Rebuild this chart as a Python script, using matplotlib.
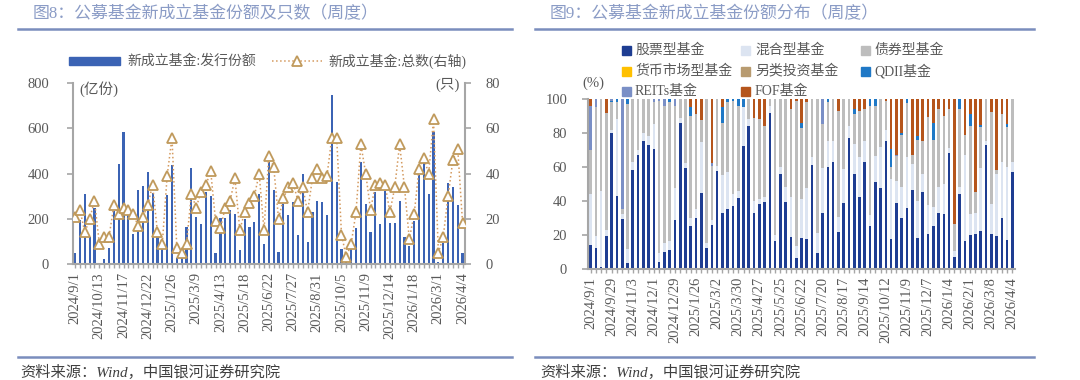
import matplotlib
matplotlib.use('Agg')
import matplotlib.pyplot as plt
import numpy as np
from matplotlib.lines import Line2D
from matplotlib.patches import Rectangle

plt.rcParams['font.family'] = ['Liberation Serif', 'Noto Sans CJK SC']

# ---------------- data ----------------
dates = [
    "2024/9/1", "2024/9/8", "2024/9/15", "2024/9/22", "2024/9/29", "2024/10/13", "2024/10/20",
    "2024/10/27", "2024/11/3", "2024/11/10", "2024/11/17", "2024/11/24", "2024/12/1", "2024/12/8",
    "2024/12/15", "2024/12/22", "2024/12/29",
    "2025/1/5", "2025/1/12", "2025/1/19", "2025/1/26", "2025/2/9", "2025/2/16", "2025/2/23",
    "2025/3/2", "2025/3/9", "2025/3/16", "2025/3/23", "2025/3/30", "2025/4/6", "2025/4/13",
    "2025/4/20", "2025/4/27", "2025/5/4", "2025/5/11", "2025/5/18", "2025/5/25", "2025/6/1",
    "2025/6/8", "2025/6/15", "2025/6/22", "2025/6/29", "2025/7/6", "2025/7/13", "2025/7/20",
    "2025/7/27", "2025/8/3", "2025/8/10", "2025/8/17", "2025/8/24", "2025/8/31", "2025/9/7",
    "2025/9/14", "2025/9/21", "2025/9/28", "2025/10/5", "2025/10/12", "2025/10/19", "2025/10/26",
    "2025/11/2", "2025/11/9", "2025/11/16", "2025/11/23", "2025/11/30", "2025/12/7", "2025/12/14",
    "2025/12/21", "2025/12/28",
    "2026/1/4", "2026/1/11", "2026/1/18", "2026/1/25", "2026/2/1", "2026/2/8", "2026/2/15",
    "2026/3/1", "2026/3/8", "2026/3/15", "2026/3/22", "2026/3/29", "2026/4/4",
]

# 新成立基金:发行份额 (亿份)
issue_share = [
    50, 195, 310, 120, 250, 5, 22, 70, 235, 443,
    585, 215, 133, 328, 345, 407, 316, 120, 77, 304,
    438, 25, 35, 162, 427, 210, 177, 319, 301, 47,
    202, 205, 239, 221, 62, 200, 162, 187, 310, 89,
    453, 328, 55, 265, 215, 276, 128, 397, 97, 232,
    280, 273, 217, 748, 365, 66, 25, 72, 161, 453,
    264, 140, 320, 177, 323, 180, 180, 279, 121, 80,
    192, 394, 446, 308, 586, 10, 92, 360, 342, 261,
    50,
]

# 新成立基金:总数 (只)
fund_count = [
    21, 24, 14, 20, 28, 9, 12, 12, 26, 22,
    25, 24, 22, 17, 21, 26, 35, 14, 9, 39,
    56, 7, 5, 9, 31, 25, 32, 35, 41, 19,
    16, 25, 28, 38, 15, 23, 27, 30, 40, 15,
    48, 43, 20, 29, 34, 36, 28, 34, 23, 38,
    42, 38, 39, 56, 56, 13, 3, 9, 23, 53,
    40, 24, 35, 36, 35, 23, 34, 53, 34, 11,
    22, 42, 47, 40, 64, 5, 12, 30, 46, 51,
    18,
]

# share distribution (%)
stock = [
    14, 12, 1, 19, 80, 43, 29, 3.5, 58, 67,
    75, 73, 70.5, 4, 10, 11, 28.5, 86, 59, 25,
    30, 44.5, 12, 25.5, 57.5, 33, 35, 37, 41.5, 72,
    84, 33, 38, 39, 92, 16, 56, 39, 18.5, 6,
    18, 17.6, 61, 9, 33, 60, 63, 21.5, 38.6, 77,
    56, 42, 63, 25, 51, 47.5, 75.5, 17.6, 38.6, 30,
    35.7, 46.5, 18, 45, 20.6, 25, 33, 32, 68, 6.5,
    44, 16, 20, 20.6, 22, 73, 20.6, 19, 30, 16.7,
    57,
]
mixed = [
    30, 7, 45, 4, 2, 45, 3, 8, 5, 3,
    5, 5, 15, 5, 5, 5, 19, 3, 3, 4.5,
    5, 30, 3, 3, 3, 22, 22, 7, 4, 23,
    4, 7, 3, 3, 4, 4, 4, 9, 23.5, 7,
    23, 30, 5, 12, 26, 15, 12, 9, 20, 7,
    17.6, 23.5, 12, 6.5, 15.6, 24, 6, 35, 13, 18,
    30, 15, 22, 11, 16.7, 11, 15, 18, 3, 4,
    4, 51, 12, 12, 37, 2.5, 17.6, 37, 33, 43,
    6,
]
bond = [
    26, 76, 54, 69, 16, 10, 3, 85.5, 37, 30,
    20, 22, 13, 90, 81, 82, 48.5, 11, 38, 60.5,
    56, 13, 85, 32, 39.5, 31, 41, 55, 50.5, 0,
    12, 49, 47, 42, 4, 80, 40, 52, 52, 86,
    42, 50.4, 34, 79, 26, 23, 25, 62.5, 41.4, 16,
    17.4, 27.5, 19, 64.5, 29.4, 28.5, 17.5, 7, 15, 31,
    32, 5.5, 36, 19.5, 52, 40, 46, 40, 23, 16,
    46, 12, 52, 12.5, 24.5, 24.5, 54, 2, 28.2, 23.6,
    37,
]
money = [0] * 81
alternative = [0] * 81
qdii = [
    0, 0, 0, 0, 1, 2, 0, 3, 0, 0,
    0, 0, 0, 0, 0, 2, 0, 0, 0, 5,
    0, 0, 0, 0, 0, 9, 2, 1, 4, 5,
    0, 0, 0, 0, 0, 0, 0, 0, 0, 0,
    3, 0, 0, 0, 0, 2, 0, 0, 0, 0,
    3, 0, 0, 4, 4, 0, 0, 11, 0, 1,
    2.3, 0, 2, 0, 0, 10, 0, 0, 0, 0,
    6, 0, 7, 0, 1, 0, 0, 0, 0, 2,
    0,
]
reits = [
    26, 5, 0, 0, 1, 0, 65, 0, 0, 0,
    0, 0, 1.5, 1, 4, 0, 4, 0, 0, 0,
    0, 0, 0, 1.5, 0, 0, 0, 0, 0, 0,
    0, 0, 0, 0, 0, 0, 0, 0, 0, 0,
    0, 0, 0, 0, 15, 0, 0, 0, 0, 0,
    0, 0, 0, 0, 0, 0, 0, 0, 0.4, 0,
    0, 0, 0, 0, 0, 0, 0, 0, 0, 0,
    0, 0, 0, 0, 0, 0, 0, 0, 0, 0,
    0,
]
fof = [
    4, 0, 0, 8, 0, 0, 0, 0, 0, 0,
    0, 0, 0, 0, 0, 0, 0, 0, 0, 5,
    9, 12.5, 0, 38, 0, 5, 0, 0, 0, 0,
    0, 11, 12, 16, 0, 0, 0, 0, 6, 1,
    14, 2, 0, 0, 0, 0, 0, 7, 0, 0,
    6, 7, 6, 0, 0, 0, 1, 29.4, 33, 20,
    0, 33, 22, 24.5, 10.7, 14, 6, 10, 6, 73.5,
    0, 21, 9, 54.9, 15.5, 0, 7.8, 42, 8.8, 14.7,
    0,
]

dist_names = ["股票型基金", "混合型基金", "债券型基金", "货币市场型基金",
              "另类投资基金", "QDII基金", "REITs基金", "FOF基金"]
dist_colors = ["#1e3d92", "#dce4f1", "#bdbdbd", "#ffc000",
               "#b89b70", "#1f78c6", "#7a8fc6", "#b5551c"]

# ---------------- figure ----------------
W, H = 1080, 380
fig = plt.figure(figsize=(W / 100, H / 100), dpi=100)
fig.patch.set_facecolor("white")


def fx(p):
    return p / W


def fy(p):
    return 1 - p / H


def box(l, t, r, b):
    return [fx(l), fy(b), (r - l) / W, (b - t) / H]


TXT = "#595959"
AXC = "#a6a6a6"
TITLE_C = "#8b9cc6"
LINE_C = "#7a8dbd"
x = np.arange(len(dates))

# ---- header / footer decorations ----
fig.text(fx(33), fy(14), "图8：公募基金新成立基金份额及只数（周度）", fontsize=12.2,
         color=TITLE_C, va="center", ha="left")
fig.text(fx(550), fy(14), "图9：公募基金新成立基金份额分布（周度）", fontsize=12.2,
         color=TITLE_C, va="center", ha="left")
for (a, b) in [(18, 512), (535, 1034)]:
    fig.add_artist(Line2D([fx(a), fx(b)], [fy(29), fy(29)], color=LINE_C, lw=1.8))
    fig.add_artist(Line2D([fx(a), fx(b)], [fy(356.5), fy(356.5)], color=LINE_C, lw=1.8))
fig.text(fx(20), fy(372), "资料来源：Wind，中国银河证券研究院", fontsize=11,
         color="#404040", va="center", ha="left", style="italic")
fig.text(fx(540), fy(372), "资料来源：Wind，中国银河证券研究院", fontsize=11,
         color="#404040", va="center", ha="left", style="italic")

# ---------------- left chart ----------------
ax1 = fig.add_axes(box(72.7, 83.3, 465, 264))
ax1.bar(x, issue_share, width=0.45, color="#3b63b4", zorder=2)
ax1.set_xlim(-0.5, len(dates) - 0.5)
ax1.set_ylim(0, 800)
ax1.set_yticks([0, 200, 400, 600, 800])
ax1.set_xticks(x)
ax1.set_xticklabels([d if i % 5 == 0 else "" for i, d in enumerate(dates)],
                    rotation=90, fontsize=10.5, color=TXT)
ax1.tick_params(axis="x", length=3, color=AXC, width=1, pad=3)
ax1.tick_params(axis="y", length=4, color=AXC, width=1.2, labelsize=10.5,
                labelcolor=TXT, pad=13)
for s in ["top", "right"]:
    ax1.spines[s].set_visible(False)
for s in ["left", "bottom"]:
    ax1.spines[s].set_color(AXC)
    ax1.spines[s].set_linewidth(1.5)

ax2 = ax1.twinx()
ax2.plot(x, fund_count, ls=":", color="#d49a5f", lw=1.1, marker="^", ms=7.5,
         mfc="white", mec="#c09a5c", mew=1.3, zorder=3)
ax2.set_ylim(0, 80)
ax2.set_yticks([0, 20, 40, 60, 80])
ax2.tick_params(axis="y", length=4, color=AXC, width=1.2, labelsize=10.5,
                labelcolor=TXT, pad=11)
for s in ["top", "left", "bottom"]:
    ax2.spines[s].set_visible(False)
ax2.spines["right"].set_color(AXC)
ax2.spines["right"].set_linewidth(1.5)

fig.text(fx(79), fy(89), "(亿份)", fontsize=10.5, color=TXT, va="center", ha="left")
fig.text(fx(460), fy(85), "(只)", fontsize=10.5, color=TXT, va="center", ha="right")

# left legend
fig.add_artist(Rectangle((fx(69), fy(65)), 51 / W, 8 / H, transform=fig.transFigure,
                         color="#3b63b4"))
fig.text(fx(127), fy(61), "新成立基金:发行份额", fontsize=10, color=TXT, va="center", ha="left")
fig.add_artist(Line2D([fx(272), fx(322)], [fy(61), fy(61)], ls=":", color="#d49a5f", lw=1.1))
fig.add_artist(Line2D([fx(297)], [fy(61)], marker="^", ms=7.5, mfc="white",
                      mec="#c09a5c", mew=1.3))
fig.text(fx(328), fy(61), "新成立基金:总数(右轴)", fontsize=10, color=TXT, va="center", ha="left")

# ---------------- right chart ----------------
ax3 = fig.add_axes(box(588, 99, 1015, 268.5))
series = [stock, mixed, bond, money, alternative, qdii, reits, fof]
totals = np.sum(np.array(series, dtype=float), axis=0)
bottom = np.zeros(len(dates))
for vals, c in zip(series, dist_colors):
    v = np.array(vals, dtype=float) / totals * 100
    ax3.bar(x, v, bottom=bottom, width=0.5, color=c, zorder=2)
    bottom += v
ax3.set_xlim(-0.5, len(dates) - 0.5)
ax3.set_ylim(0, 100)
ax3.set_yticks([0, 20, 40, 60, 80, 100])
ax3.set_xticks(x)
ax3.set_xticklabels([d if i % 4 == 0 else "" for i, d in enumerate(dates)],
                    rotation=90, fontsize=10.5, color=TXT)
ax3.tick_params(axis="x", length=3, color=AXC, width=1, pad=3)
ax3.tick_params(axis="y", length=4, color=AXC, width=1.2, labelsize=10.5,
                labelcolor=TXT, pad=11)
for s in ["top", "right"]:
    ax3.spines[s].set_visible(False)
for s in ["left", "bottom"]:
    ax3.spines[s].set_color(AXC)
    ax3.spines[s].set_linewidth(1.5)
fig.text(fx(593), fy(83), "(%)", fontsize=10.5, color=TXT, va="center", ha="center")

# right legend (3 columns)
col_sq = [621.5, 741, 861]
col_tx = [635, 755, 874]
row_y = [50, 71, 91.5]
for k, (name, c) in enumerate(zip(dist_names, dist_colors)):
    r, cidx = divmod(k, 3)
    fig.add_artist(Rectangle((fx(col_sq[cidx]), fy(row_y[r] + 4.5)), 9 / W, 9 / H,
                             transform=fig.transFigure, color=c))
    fig.text(fx(col_tx[cidx]), fy(row_y[r]), name, fontsize=10, color=TXT,
             va="center", ha="left")

fig.savefig("out.png", dpi=100, facecolor="white")
